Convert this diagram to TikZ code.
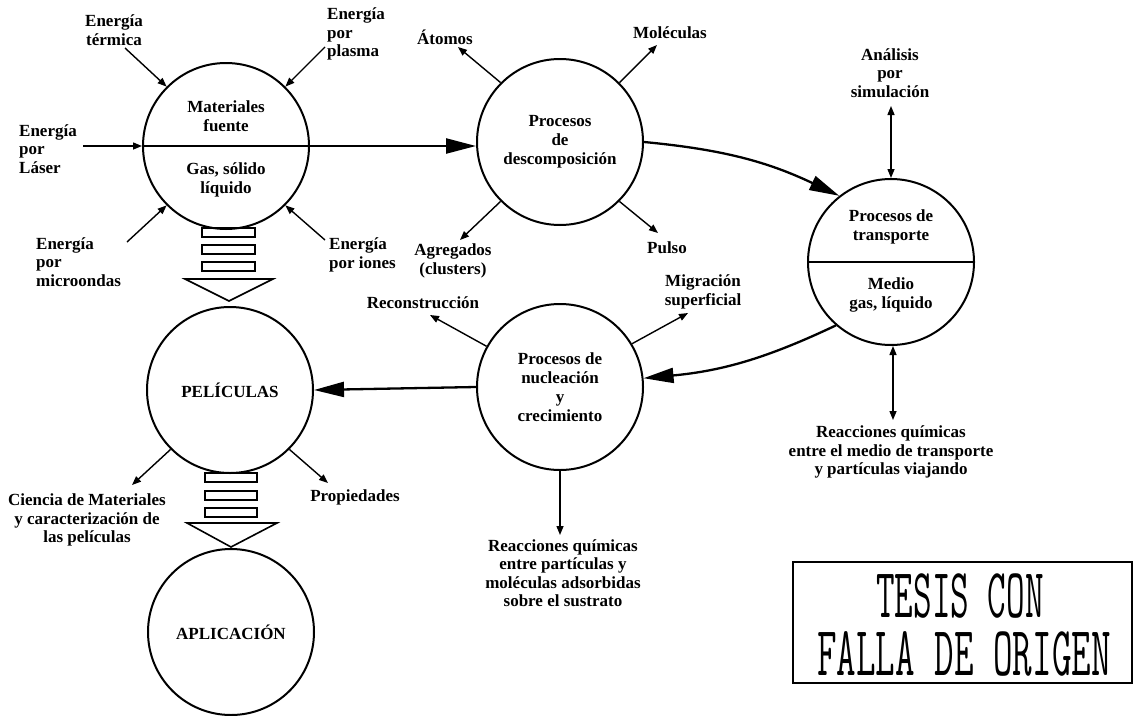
\documentclass[tikz,border=0pt]{standalone}
\usepackage{fontspec}
\usepackage{graphicx}
\setmainfont{Liberation Serif}
\usetikzlibrary{arrows.meta}
\tikzset{
  circ/.style={draw, circle, line width=2pt, minimum size=166pt, inner sep=0pt,
    align=center, font=\bfseries\fontsize{17}{19}\selectfont},
  lbl/.style={align=center, inner sep=1pt, font=\bfseries\fontsize{17}{18.5}\selectfont},
  lbll/.style={align=left, inner sep=1pt, anchor=west, font=\bfseries\fontsize{17}{18.5}\selectfont},
  sarrow/.style={line width=1.4pt, -{Triangle[length=9pt,width=7pt]}},
  darrow/.style={line width=1.4pt, {Triangle[length=9pt,width=7pt]}-{Triangle[length=9pt,width=7pt]}},
  barrow/.style={line width=2.3pt, -{Triangle[length=30pt,width=15pt]}},
  hollow/.style={line width=1.6pt},
  divider/.style={line width=2pt},
  stamp/.style={inner sep=0pt, font=\ttfamily\addfontfeatures{FakeBold=2}\fontsize{38}{38}\selectfont}
}
\begin{document}
\begin{tikzpicture}[x=1pt,y=-1pt]
\useasboundingbox (0,0) rectangle (1137,715);

% circles
\node[circ] (c1) at (226,146) {};
\node[circ] (c2) at (560,142) {Procesos\\de\\descomposición};
\node[circ] (c3) at (891,262) {};
\node[circ] (c4) at (560,387) {Procesos de\\nucleación\\y\\crecimiento};
\node[circ] (pel) at (230,390) {PELÍCULAS};
\node[circ] (apl) at (231,632) {APLICACIÓN};

% circle dividers and halves
\draw[divider] (c1.west) -- (c1.east);
\node[lbl] (c1u) at (226,116) {Materiales\\fuente};
\node[lbl] (c1l) at (226,180) {Gas, sólido\\líquido};
\draw[divider] (c3.west) -- (c3.east);
\node[lbl] (c3u) at (891,227) {Procesos de\\transporte};
\node[lbl] (c3l) at (891,295) {Medio\\gas, líquido};

% energy inputs
\node[lbl] (eterm) at (114,30) {Energía\\térmica};
\node[lbll] (eplas) at (326,34) {Energía\\por\\plasma};
\node[lbll] (elas) at (18,149) {Energía\\por\\Láser};
\node[lbll] (emic) at (35,262) {Energía\\por\\microondas};
\node[lbll] (eion) at (328,255) {Energía\\por iones};
\coordinate (pterm) at (125,48);
\coordinate (pplas) at (325,47);
\coordinate (plas) at (83,146);
\coordinate (pmic) at (127,242);
\coordinate (pion) at (325,240);
\draw[sarrow] (pterm) -- (c1.135);
\draw[sarrow] (pplas) -- (c1.45);
\draw[sarrow] (plas) -- (c1.west);
\draw[sarrow] (pmic) -- (c1.225);
\draw[sarrow] (pion) -- (c1.315);

% main flow
\draw[barrow] (c1.east) -- (c1.east -| c2.west);
\draw[barrow] (c2.east) to[bend left=10] (c3.128);
\draw[barrow] (c3.229) to[bend left=10] (c4.6);
\draw[barrow] (c4.west) -- (pel.east);

% decomposition outputs
\node[lbl] (atom) at (445,37) {Átomos};
\node[lbl] (molec) at (670,33) {Moléculas};
\node[lbl] (agreg) at (453,261) {Agregados\\(clusters)};
\node[lbl] (pulso) at (667,248) {Pulso};
\coordinate (patom) at (458,47);
\coordinate (pmolec) at (657,45);
\coordinate (pagreg) at (460,240);
\coordinate (ppulso) at (658,233);
\draw[sarrow] (c2.135) -- (patom);
\draw[sarrow] (c2.45) -- (pmolec);
\draw[sarrow] (c2.225) -- (pagreg);
\draw[sarrow] (c2.315) -- (ppulso);

% transport
\node[lbl] (anal) at (890,73) {Análisis\\por\\simulación};
\node[lbl] (reac1) at (891,452) {Reacciones químicas\\entre el medio de transporte\\y partículas viajando};
\coordinate (panal) at (891,106);
\coordinate (preac1) at (893,420);
\draw[darrow] (panal) -- (c3.north);
\draw[darrow] (c3.south -| preac1) -- (preac1);

% nucleation
\node[lbl] (recon) at (423,303) {Reconstrucción};
\node[lbl] (migr) at (703,292) {Migración\\superficial};
\node[lbl] (reac2) at (563,573) {Reacciones químicas\\entre partículas y\\moléculas adsorbidas\\sobre el sustrato};
\coordinate (precon) at (430,315);
\coordinate (pmigr) at (688,313);
\coordinate (preac2) at (560,535);
\draw[sarrow] (c4.151) -- (precon);
\draw[sarrow] (c4.31) -- (pmigr);
\draw[sarrow] (c4.south) -- (preac2);

% peliculas
\node[lbl] (cien) at (87,520) {Ciencia de Materiales\\y caracterización de\\las películas};
\node[lbl] (prop) at (355,497) {Propiedades};
\coordinate (pcien) at (132,485);
\coordinate (pprop) at (328,483);
\draw[sarrow] (pel.225) -- (pcien);
\draw[sarrow] (pel.315) -- (pprop);

% hollow stacked arrows
\draw[hollow] (202,228) rectangle (255,237);
\draw[hollow] (202,245) rectangle (255,254);
\draw[hollow] (202,262) rectangle (255,271);
\draw[hollow] (185,279) -- (273,279) -- (229,301) -- cycle;

\draw[hollow] (205,473) rectangle (257,482);
\draw[hollow] (205,491) rectangle (257,500);
\draw[hollow] (205,508) rectangle (257,517);
\draw[hollow] (187,523) -- (277,523) -- (231,547) -- cycle;

% stamp
\draw[line width=2.5pt] (793,562) rectangle (1132,683);
\node[stamp] (st1) at (960,596) {\scalebox{0.95}[1.85]{TESIS CON}};
\node[stamp] (st2) at (964,654) {\scalebox{1}[1.85]{FALLA DE ORIGEN}};
\end{tikzpicture}
\end{document}
